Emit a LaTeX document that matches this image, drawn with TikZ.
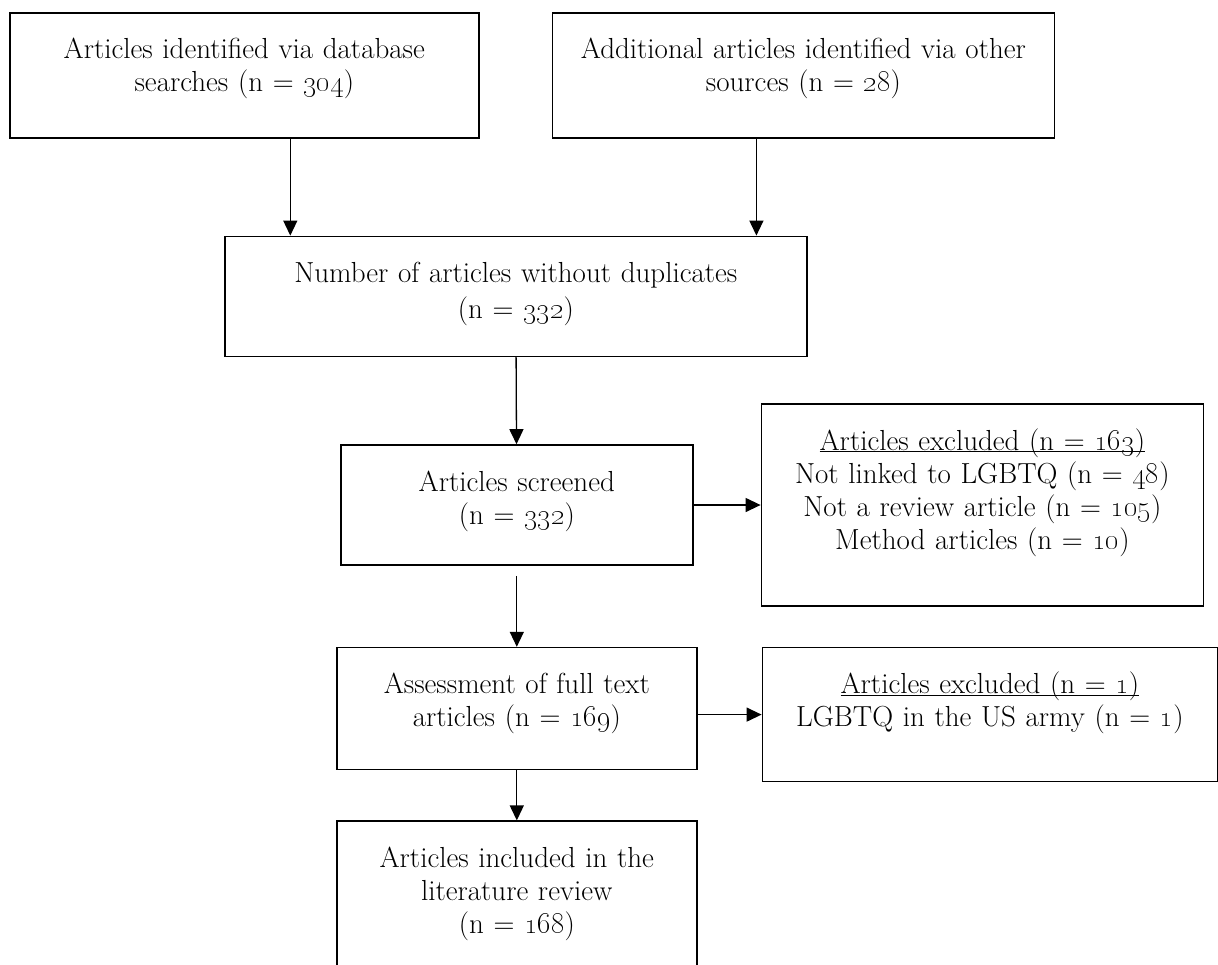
\documentclass[tikz,border=0pt]{standalone}
\usetikzlibrary{arrows.meta}
\usetikzlibrary{positioning}

\newcommand{\ncount}[1]{(n = \oldstylenums{#1})}

\begin{document}
\begin{tikzpicture}[x=1pt,y=1pt,->,>={Triangle[length=15pt,width=14pt]},
                    line width=1.3pt,
                    every node/.style={font=\fontsize{29}{33}\selectfont}]
  \tikzstyle{stage}=[draw,line width=1.6pt,align=center,inner sep=0pt,text height=46pt]

  \useasboundingbox (0,0) rectangle (1218,-964);

  \node[stage,text width=469pt,text depth=79pt,anchor=north west] (A) at (9,-12)
    {Articles identified via database\\searches \ncount{304}};
  \node[stage,text width=502pt,text depth=79pt] (B) [right=72pt of A]
    {Additional articles identified via other\\sources \ncount{28}};
  \node[stage,text width=582pt,text depth=74pt] (N) [below right=97pt and 215pt of A.south west]
    {Number of articles without duplicates\\[3pt]\ncount{332}};
  \node[stage,text width=352pt,text depth=74pt] (S) [below right=87pt and 116pt of N.south west]
    {Articles screened\\\ncount{332}};
  \node[stage,text width=442pt,text depth=156pt] (E1) [right=67pt of S]
    {\underline{\smash{Articles excluded \ncount{163}}}\\Not linked to LGBTQ \ncount{48}\\
     Not a review article \ncount{105}\\Method articles \ncount{10}};
  \node[stage,text width=360pt,text depth=76pt] (F) [below=81pt of S]
    {Assessment of full text\\articles \ncount{169}};
  \node[stage,text width=455pt,text depth=88pt] (E2) [below right=0pt and 64pt of F.north east]
    {\underline{\smash{Articles excluded \ncount{1}}}\\LGBTQ in the US army \ncount{1}};
  \node[stage,text width=360pt,text depth=160pt] (I) [below=50pt of F]
    {Articles included in the\\literature review\\\ncount{168}};

  \draw ([xshift=46pt]A.south) -- ([xshift=46pt]A.south |- N.north);
  \draw ([xshift=-47pt]B.south) -- ([xshift=-47pt]B.south |- N.north);
  \draw (N) -- (S);
  \draw (S.east) -- (S.east -| E1.west);
  \draw [shorten <=10pt] (S) -- (F);
  \draw (F.east |- E2.west) -- (E2.west);
  \draw (F) -- (I);
\end{tikzpicture}
\end{document}
